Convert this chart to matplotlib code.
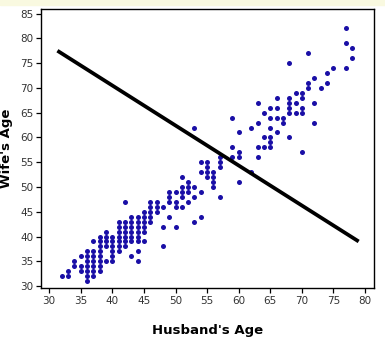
import numpy as np
import matplotlib.pyplot as plt
from matplotlib.patches import Rectangle

# ages of couples (husband, wife)
husband = [32, 33, 36, 37, 36,
           33, 35, 36, 37, 38,
           34, 35, 36, 37, 38,
           34, 36, 37, 38, 39, 40, 44,
           35, 36, 37, 38, 40, 43,
           36, 37, 38, 40, 41, 44,
           38, 39, 40, 41, 42, 48,
           37, 38, 39, 40, 41, 42, 43, 44, 45,
           38, 39, 40, 41, 42, 43, 44,
           39, 41, 42, 43, 44, 45,
           41, 42, 43, 44, 45, 48, 50,
           41, 42, 43, 44, 45, 46, 53,
           43, 44, 45, 46, 49, 54,
           45, 46, 47,
           46, 47, 48, 50, 51,
           42, 46, 47, 49, 50, 52,
           49, 51, 53, 57,
           49, 50, 51, 52, 54,
           51, 52, 53, 56,
           52, 56, 60,
           51, 55, 56,
           54, 55, 56, 62,
           55, 57,
           54, 55, 57,
           57, 59, 60, 63,
           60, 70,
           59, 63, 64, 65,
           65,
           64, 65, 68,
           60, 66,
           53, 62, 65,
           63, 67, 72,
           59, 65, 66, 67,
           64, 68, 69, 70,
           65, 66, 68, 70,
           63, 68, 69, 72,
           66, 68, 70,
           69, 70,
           71, 73,
           71, 74,
           72,
           74,
           75, 77,
           68,
           78,
           71,
           78,
           77,
           77]
wife = [32, 32, 32, 32, 31,
        33, 33, 33, 33, 33,
        34, 34, 34, 34, 34,
        35, 35, 35, 35, 35, 35, 35,
        36, 36, 36, 36, 36, 36,
        37, 37, 37, 37, 37, 37,
        38, 38, 38, 38, 38, 38,
        39, 39, 39, 39, 39, 39, 39, 39, 39,
        40, 40, 40, 40, 40, 40, 40,
        41, 41, 41, 41, 41, 41,
        42, 42, 42, 42, 42, 42, 42,
        43, 43, 43, 43, 43, 43, 43,
        44, 44, 44, 44, 44, 44,
        45, 45, 45,
        46, 46, 46, 46, 46,
        47, 47, 47, 47, 47, 47,
        48, 48, 48, 48,
        49, 49, 49, 49, 49,
        50, 50, 50, 50,
        51, 51, 51,
        52, 52, 52,
        53, 53, 53, 53,
        54, 54,
        55, 55, 55,
        56, 56, 56, 56,
        57, 57,
        58, 58, 58, 58,
        59,
        60, 60, 60,
        61, 61,
        62, 62, 62,
        63, 63, 63,
        64, 64, 64, 64,
        65, 65, 65, 65,
        66, 66, 66, 66,
        67, 67, 67, 67,
        68, 68, 68,
        69, 69,
        70, 70,
        71, 71,
        72,
        73,
        74, 74,
        75,
        76,
        77,
        78,
        79,
        82]

# the drawn line (end points)
line_x = [31.3, 79.0]
line_y = [77.5, 39.0]

xticks = [30, 35, 40, 45, 50, 55, 60, 65, 70, 75, 80]
yticks = [30, 35, 40, 45, 50, 55, 60, 65, 70, 75, 80, 85]

fig = plt.figure(figsize=(3.85, 3.5), dpi=100)
fig.patches.append(Rectangle((0, 0.985), 1, 0.015, transform=fig.transFigure,
                             color='#f9f9e0', zorder=0))
ax = fig.add_axes([0.1065, 0.177, 0.8645, 0.797])

ax.scatter(husband, wife, s=13, color='#1a0fa6', linewidths=0, zorder=3)
ax.plot(line_x, line_y, color='black', lw=2.7, solid_capstyle='butt', zorder=4)

ax.set_xlim(28.7, 81.4)
ax.set_ylim(29.6, 85.9)
ax.set_xticks(xticks)
ax.set_yticks(yticks)
ax.tick_params(direction='out', length=3.5, width=0.9, labelsize=7.5,
               labelcolor='#333333', pad=2)
for sp in ax.spines.values():
    sp.set_linewidth(1.0)

ax.set_xlabel("Husband's Age", fontsize=9.5, fontweight='bold', labelpad=13)
ax.set_ylabel("Wife's Age", fontsize=9.5, fontweight='bold', labelpad=5)

fig.savefig('out.png', dpi=100)
